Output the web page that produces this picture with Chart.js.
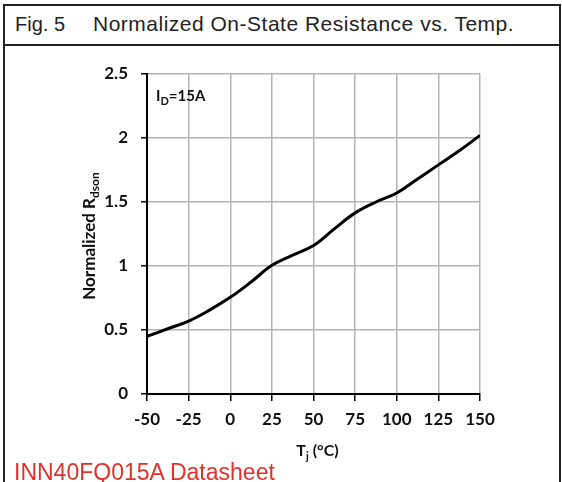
<!DOCTYPE html>
<html lang="en">
<head>
  <meta charset="UTF-8" />
  <title>Fig. 5 Normalized On-State Resistance vs. Temp.</title>
  <script src="https://cdn.jsdelivr.net/npm/chart.js"></script>
  <style>
    body {
      margin: 0;
      width: 562px;
      height: 482px;
      overflow: hidden;
      background: #fff;
      font-family: 'Liberation Sans', Arial, sans-serif;
      position: relative;
    }
    .frame {
      position: absolute;
      left: 3px;
      top: 4px;
      width: 554px;
      height: 500px;
      border: 2px solid #222;
    }
    .divider {
      position: absolute;
      left: 3px;
      top: 44px;
      width: 558px;
      height: 2px;
      background: #222;
    }
    .title {
      position: absolute;
      top: 12px;
      font-size: 21px;
      line-height: 24px;
      color: #222;
      white-space: nowrap;
    }
    .source {
      position: absolute;
      left: 14px;
      top: 460px;
      font-size: 23px;
      line-height: 24px;
      color: #e2312a;
      white-space: nowrap;
    }
    .chart-box {
      position: absolute;
      left: 0;
      top: 46px;
      width: 562px;
      height: 436px;
    }
  </style>
</head>
<body>
  <div class="frame"></div>
  <div class="divider"></div>
  <div class="title" style="left:15px;font-size:20px">Fig. 5</div>
  <div class="title" style="left:93px;letter-spacing:0.5px">Normalized On-State Resistance vs. Temp.</div>
  <div class="chart-box"><canvas id="rdsChart"></canvas></div>
  <div class="source">INN40FQ015A Datasheet</div>

  <script>
    // junction temperature (°C) and normalized Rds(on)
    const temps = [-50, -37.5, -25, -12.5, 0, 12.5, 25, 37.5, 50, 62.5, 75, 87.5, 100, 112.5, 125, 137.5, 150];
    const rdsNorm = [0.45, 0.51, 0.57, 0.655, 0.755, 0.875, 1.005, 1.085, 1.16, 1.29, 1.415, 1.50, 1.57, 1.68, 1.79, 1.90, 2.02];
    const xTicks = [-50, -25, 0, 25, 50, 75, 100, 125, 150];
    const yTicks = [0, 0.5, 1, 1.5, 2, 2.5];

    const chartFont = 'Lato, "Open Sans", sans-serif';

    // draws a run of [text, isSubscript] pieces starting at x
    function drawRuns(c, runs, x, y, size) {
      runs.forEach(([txt, sub]) => {
        c.font = `bold ${sub ? Math.round(size * 0.7) : size}px ${chartFont}`;
        c.fillText(txt, x, sub ? y + size * 0.25 : y);
        x += c.measureText(txt).width;
      });
    }
    function runsWidth(c, runs, size) {
      let w = 0;
      runs.forEach(([txt, sub]) => {
        c.font = `bold ${sub ? Math.round(size * 0.7) : size}px ${chartFont}`;
        w += c.measureText(txt).width;
      });
      return w;
    }

    const labelPlugin = {
      id: 'labels',
      afterDraw(chart) {
        const c = chart.ctx;
        const a = chart.chartArea;
        c.save();
        c.fillStyle = '#111';
        c.textBaseline = 'alphabetic';
        c.textAlign = 'left';

        // I_D = 15A note
        drawRuns(c, [['I', false], ['D', true], ['=15A', false]], a.left + 9, a.top + 27, 15);

        // x axis title
        const xRuns = [['T', false], ['j', true], [' (°C)', false]];
        const xw = runsWidth(c, xRuns, 16);
        drawRuns(c, xRuns, (a.left + a.right) / 2 + 4 - xw / 2, a.bottom + 62, 16);

        // y axis title, rotated
        const yRuns = [['Normalized R', false], ['dson', true]];
        const yw = runsWidth(c, yRuns, 17);
        c.translate(a.left - 52, (a.top + a.bottom) / 2 + 2);
        c.rotate(-Math.PI / 2);
        drawRuns(c, yRuns, -yw / 2, 0, 17);
        c.restore();
      }
    };

    const ctx = document.getElementById('rdsChart').getContext('2d');
    new Chart(ctx, {
      type: 'line',
      data: {
        datasets: [{
          data: temps.map((t, i) => ({ x: t, y: rdsNorm[i] })),
          borderColor: '#000',
          borderWidth: 3,
          pointRadius: 0,
          tension: 0.4,
          fill: false
        }]
      },
      options: {
        responsive: true,
        maintainAspectRatio: false,
        animation: false,
        layout: { padding: { left: 0, right: 82, top: 28, bottom: 0 } },
        plugins: {
          legend: { display: false },
          tooltip: { enabled: false }
        },
        scales: {
          x: {
            type: 'linear',
            min: xTicks[0],
            max: xTicks[xTicks.length - 1],
            afterBuildTicks: s => { s.ticks = xTicks.map(v => ({ value: v })); },
            afterFit: s => { s.height = 88; },
            grid: { color: '#b4b4b4', lineWidth: 1.5, tickColor: '#000', tickLength: 7 },
            border: { color: '#000', width: 2 },
            ticks: {
              color: '#111',
              padding: 8,
              maxRotation: 0,
              font: { family: chartFont, size: 17, weight: 'bold' }
            }
          },
          y: {
            min: yTicks[0],
            max: yTicks[yTicks.length - 1],
            afterBuildTicks: s => { s.ticks = yTicks.map(v => ({ value: v })); },
            afterFit: s => { s.width = 147; },
            grid: { color: '#b4b4b4', lineWidth: 1.5, tickColor: '#000', tickLength: 6 },
            border: { color: '#000', width: 2 },
            ticks: {
              color: '#111',
              padding: 13,
              callback: v => String(v),
              font: { family: chartFont, size: 17, weight: 'bold' }
            }
          }
        }
      },
      plugins: [labelPlugin]
    });
  </script>
</body>
</html>
